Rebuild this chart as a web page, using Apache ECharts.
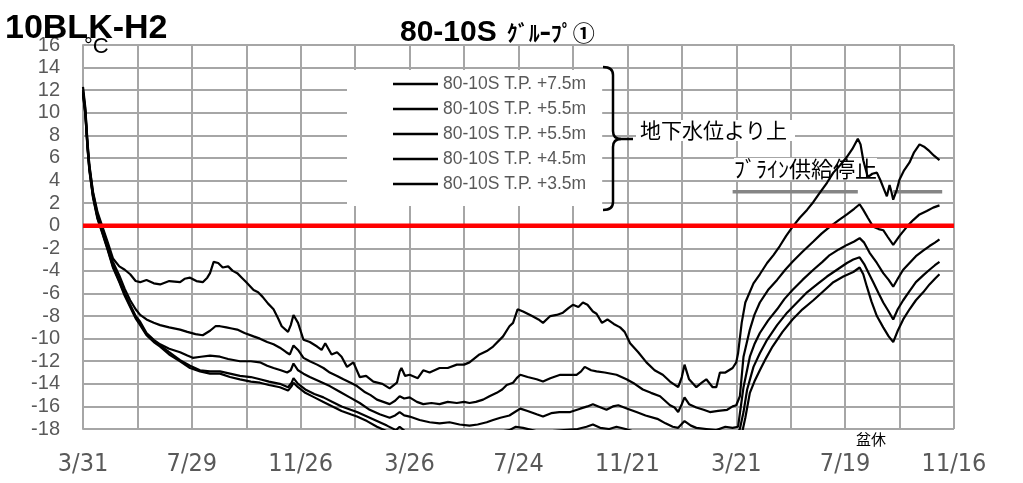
<!DOCTYPE html>
<html><head><meta charset="utf-8">
<script src="https://cdn.jsdelivr.net/npm/echarts@6/dist/echarts.min.js"></script>
<style>html,body{margin:0;padding:0;background:#fff}#c{width:1023px;height:483px}</style>
</head><body><div id="c"></div>
<script>
// x = days since 3/31 (first year); labels every 120 days
const xLabels = ['3/31','7/29','11/26','3/26','7/24','11/21','3/21','7/19','11/16'];
const seriesNames = ['80-10S T.P. +7.5m','80-10S T.P. +5.5m','80-10S T.P. +5.5m\u200b','80-10S T.P. +4.5m','80-10S T.P. +3.5m'];

const s1 = [[0,12.3],[2.5,10.5],[5,7.4],[7,5.4],[11,3.0],[16,1.2],[21,0.0],[27,-1.4],[33,-2.9],[40,-3.6],[46,-3.9],[52,-4.3],[58,-4.9],[63,-5.0],[70,-4.8],[78,-5.1],[85,-5.2],[95,-4.9],[107,-5.0],[112,-4.7],[118,-4.6],[125,-4.9],[132,-5.0],[137,-4.6],[140,-4.2],[144,-3.2],[149,-3.3],[154,-3.7],[160,-3.6],[165,-4.0],[170,-4.2],[175,-4.6],[180,-5.0],[188,-5.7],[193,-5.9],[198,-6.3],[204,-6.9],[210,-7.4],[215,-8.2],[219,-8.9],[226,-9.4],[229,-8.8],[232,-7.9],[237,-8.6],[243,-10.1],[250,-10.3],[258,-10.7],[263,-11.0],[267,-10.4],[274,-11.4],[280,-11.2],[285,-11.6],[291,-12.5],[298,-12.1],[305,-13.4],[312,-13.3],[320,-13.8],[330,-14.0],[338,-14.4],[346,-13.9],[349,-12.9],[351,-12.6],[355,-13.3],[360,-13.2],[369,-13.5],[375,-12.8],[382,-13.0],[393,-12.6],[402,-12.6],[412,-12.3],[420,-12.3],[426,-12.1],[437,-11.4],[445,-11.1],[452,-10.7],[463,-9.8],[470,-8.9],[474,-8.6],[479,-7.4],[485,-7.6],[495,-8.0],[502,-8.3],[507,-8.6],[515,-8.0],[522,-7.9],[529,-7.7],[535,-7.3],[540,-7.0],[546,-7.2],[551,-6.8],[556,-7.0],[562,-7.6],[566,-7.8],[572,-8.6],[578,-8.3],[585,-8.7],[592,-9.0],[597,-9.4],[603,-10.4],[612,-11.2],[621,-12.1],[630,-12.8],[639,-13.2],[647,-13.8],[656,-14.3],[660,-13.4],[663,-12.3],[668,-13.6],[676,-14.3],[682,-13.9],[687,-13.6],[694,-14.3],[698,-14.3],[702,-13.0],[708,-13.0],[716,-12.6],[720,-12.1],[722,-11.3],[726,-8.6],[730,-6.8],[739,-5.1],[746,-4.3],[754,-3.3],[761,-2.6],[768,-1.8],[775,-0.9],[782,-0.1],[790,0.7],[798,1.4],[805,2.1],[812,2.9],[820,3.8],[827,4.7],[835,5.4],[842,6.1],[848,6.8],[854,7.7],[857,7.2],[860,5.8],[865,4.3],[870,4.6],[875,4.7],[879,4.0],[882,3.4],[886,2.6],[889,3.6],[891,3.0],[893,2.3],[897,3.2],[900,4.1],[905,4.9],[911,5.6],[916,6.5],[922,7.2],[927,7.0],[933,6.6],[938,6.2],[944,5.8]];

const s2 = [[0,12.0],[2.5,10.3],[5,7.2],[7,5.3],[11,2.9],[16,1.0],[21,-0.2],[27,-1.6],[33,-3.2],[40,-4.4],[46,-5.6],[52,-6.6],[58,-7.4],[63,-7.9],[70,-8.3],[78,-8.6],[85,-8.8],[95,-9.0],[107,-9.2],[115,-9.4],[124,-9.6],[132,-9.7],[140,-9.3],[146,-8.9],[151,-8.9],[158,-9.0],[164,-9.1],[170,-9.2],[178,-9.5],[188,-9.8],[195,-10.0],[203,-10.3],[210,-10.5],[217,-10.8],[224,-11.2],[228,-11.4],[232,-10.6],[237,-11.0],[243,-11.7],[250,-12.0],[258,-12.3],[265,-12.6],[272,-13.0],[280,-13.3],[287,-13.6],[295,-13.9],[302,-14.2],[310,-14.7],[317,-15.0],[324,-15.4],[331,-15.6],[338,-15.8],[344,-15.5],[349,-15.1],[354,-15.3],[360,-15.2],[368,-15.6],[375,-15.8],[384,-15.7],[393,-15.8],[402,-15.6],[412,-15.7],[420,-15.6],[426,-15.7],[433,-15.6],[441,-15.4],[448,-15.1],[456,-14.8],[462,-14.5],[467,-14.1],[474,-13.9],[478,-13.5],[482,-13.2],[490,-13.4],[500,-13.6],[507,-13.8],[515,-13.5],[526,-13.2],[535,-13.2],[544,-13.2],[549,-12.9],[553,-12.5],[560,-12.8],[566,-12.9],[575,-13.0],[588,-13.2],[599,-13.6],[608,-14.0],[617,-14.5],[626,-14.8],[636,-15.1],[647,-15.9],[652,-16.1],[656,-16.5],[660,-15.8],[663,-15.2],[668,-15.8],[676,-16.1],[684,-16.3],[691,-16.5],[700,-16.4],[710,-16.3],[716,-16.0],[720,-15.9],[724,-15.1],[728,-11.6],[735,-9.2],[740,-7.9],[746,-6.8],[755,-5.7],[765,-4.8],[774,-3.9],[782,-3.2],[793,-2.3],[805,-1.4],[814,-0.7],[823,-0.1],[833,0.5],[842,1.0],[850,1.5],[856,1.9],[860,1.4],[865,0.7],[871,-0.1],[877,-0.3],[882,-0.4],[887,-1.0],[893,-1.7],[900,-0.9],[908,-0.1],[915,0.5],[922,1.0],[930,1.3],[937,1.6],[944,1.8]];

const s3 = [[0,11.8],[2.5,10.1],[5,7.0],[7,5.1],[11,2.7],[16,0.8],[21,-0.4],[27,-1.9],[33,-3.5],[40,-4.8],[46,-6.0],[52,-7.0],[58,-8.0],[63,-8.5],[70,-9.5],[78,-10.1],[85,-10.5],[95,-10.9],[107,-11.2],[115,-11.5],[121,-11.7],[130,-11.6],[140,-11.5],[151,-11.6],[160,-11.8],[173,-12.0],[185,-12.0],[195,-12.1],[203,-12.4],[210,-12.6],[218,-12.8],[225,-13.0],[229,-12.8],[232,-12.2],[237,-12.8],[243,-13.1],[250,-13.4],[261,-13.8],[272,-14.2],[283,-14.7],[294,-15.2],[305,-15.7],[316,-16.3],[327,-16.7],[338,-17.0],[344,-16.8],[349,-16.5],[354,-16.8],[360,-16.9],[371,-17.2],[382,-17.4],[393,-17.5],[404,-17.4],[415,-17.6],[426,-17.7],[435,-17.6],[445,-17.4],[452,-17.2],[460,-17.0],[470,-16.8],[476,-16.5],[482,-16.2],[490,-16.4],[500,-16.7],[507,-16.9],[516,-16.6],[525,-16.5],[537,-16.5],[548,-16.2],[556,-16.0],[562,-15.8],[568,-16.0],[577,-16.3],[584,-16.0],[590,-15.9],[600,-16.2],[610,-16.5],[620,-16.8],[633,-17.1],[642,-17.5],[650,-17.8],[656,-17.9],[663,-17.3],[670,-17.7],[676,-17.9],[687,-18.0],[698,-18.1],[708,-17.8],[716,-17.9],[722,-17.8],[728,-14.3],[735,-11.6],[740,-10.5],[746,-9.5],[755,-8.4],[765,-7.4],[773,-6.5],[782,-5.7],[793,-4.8],[805,-3.9],[815,-3.2],[823,-2.6],[833,-2.1],[842,-1.7],[850,-1.4],[856,-1.1],[861,-1.5],[867,-2.4],[875,-3.3],[882,-4.2],[888,-4.8],[893,-5.4],[898,-4.7],[904,-3.9],[911,-3.3],[918,-2.7],[926,-2.2],[933,-1.8],[939,-1.5],[944,-1.2]];

const s4 = [[0,11.7],[2.5,10.0],[5,6.9],[7,5.0],[11,2.6],[16,0.7],[21,-0.5],[27,-2.0],[33,-3.6],[40,-4.9],[46,-6.1],[52,-7.1],[58,-8.1],[63,-8.7],[70,-9.6],[78,-10.2],[85,-10.6],[95,-11.2],[107,-11.9],[118,-12.4],[129,-12.8],[140,-12.9],[151,-12.9],[162,-13.1],[173,-13.3],[185,-13.4],[195,-13.6],[205,-13.8],[217,-14.0],[226,-14.3],[230,-13.9],[232,-13.5],[237,-14.0],[245,-14.5],[255,-14.9],[265,-15.2],[275,-15.6],[285,-16.0],[295,-16.3],[302,-16.5],[313,-16.9],[324,-17.3],[335,-17.7],[345,-18.1],[349,-17.8],[355,-18.2],[365,-18.4],[380,-18.6],[395,-18.7],[410,-18.6],[425,-18.6],[440,-18.4],[455,-18.3],[470,-18.1],[477,-17.8],[485,-17.9],[495,-18.1],[505,-18.3],[515,-18.2],[530,-18.1],[545,-18.0],[555,-17.8],[562,-17.6],[570,-17.9],[580,-18.0],[588,-17.8],[598,-18.0],[610,-18.3],[625,-18.6],[640,-18.9],[655,-19.2],[663,-18.8],[670,-19.1],[685,-19.2],[700,-19.2],[715,-19.1],[724,-18.0],[728,-16.5],[732,-14.5],[739,-12.5],[746,-11.3],[754,-10.1],[765,-8.8],[776,-7.7],[787,-6.8],[798,-5.9],[809,-5.2],[820,-4.5],[831,-3.9],[842,-3.3],[849,-3.0],[856,-2.8],[861,-3.4],[866,-4.2],[871,-5.0],[877,-6.0],[882,-6.8],[888,-7.6],[893,-8.3],[898,-7.4],[904,-6.6],[911,-5.8],[918,-5.0],[926,-4.4],[933,-3.9],[939,-3.5],[944,-3.2]];

const s5 = [[0,11.6],[2.5,9.9],[5,6.8],[7,4.9],[11,2.5],[16,0.6],[21,-0.6],[27,-2.1],[33,-3.7],[40,-5.0],[46,-6.2],[52,-7.2],[58,-8.2],[63,-8.8],[70,-9.7],[78,-10.3],[85,-10.7],[95,-11.4],[107,-12.0],[118,-12.6],[129,-12.9],[140,-13.1],[151,-13.1],[162,-13.4],[173,-13.6],[185,-13.8],[195,-13.9],[205,-14.1],[217,-14.3],[226,-14.6],[230,-14.2],[232,-13.9],[237,-14.3],[245,-14.8],[255,-15.2],[265,-15.6],[275,-16.0],[285,-16.4],[295,-16.7],[302,-16.9],[313,-17.3],[324,-17.8],[335,-18.2],[345,-18.6],[360,-19.0],[380,-19.3],[400,-19.5],[420,-19.6],[440,-19.5],[460,-19.3],[480,-19.0],[500,-19.1],[520,-19.0],[540,-18.9],[560,-18.6],[580,-18.8],[600,-19.0],[620,-19.4],[640,-19.7],[660,-19.9],[680,-20.0],[700,-20.0],[720,-20.0],[726,-18.5],[730,-17.0],[735,-14.8],[740,-13.8],[746,-12.8],[753,-11.7],[760,-10.7],[771,-9.4],[782,-8.3],[793,-7.4],[805,-6.6],[816,-5.8],[827,-5.0],[838,-4.5],[849,-4.1],[856,-3.7],[860,-4.3],[864,-5.4],[869,-6.7],[875,-8.0],[882,-9.0],[888,-9.8],[893,-10.3],[898,-9.3],[904,-8.3],[911,-7.4],[918,-6.6],[926,-5.9],[933,-5.2],[939,-4.7],[944,-4.3]];

// reference line at 0 °C and "brine supply stopped" periods at 3 °C
const zeroLine = [[0,0],[960,0]];
const stopLine = [[716,3],[854,3],[874,'-'],[893,3],[947,3]];

const GRID = '#a6a6a6';
const chart = echarts.init(document.getElementById('c'), null, {renderer:'canvas'});
const allSeries = [s1,s2,s3,s4,s5].map((d,i)=>({
  name: seriesNames[i], type:'line', data:d, showSymbol:false, symbol:'none',
  color:'#000', lineStyle:{color:'#000', width:2.2}, z:3, clip:true, animation:false
}));
allSeries.push({type:'line', data:zeroLine, showSymbol:false, symbol:'none', lineStyle:{color:'#ff0000', width:4.5}, z:5, animation:false, silent:true});
allSeries.push({type:'line', data:stopLine, showSymbol:false, symbol:'none', connectNulls:false, lineStyle:{color:'#858585', width:3.5}, z:2, animation:false, silent:true});

const braceStyle = {stroke:'#000', lineWidth:2.5, fill:null};
chart.setOption({
  animation:false,
  backgroundColor:'#fff',
  grid:{left:83, top:45, width:871, height:384, containLabel:false},
  xAxis:{type:'value', min:0, max:960, interval:60,
    axisLine:{show:true, lineStyle:{color:GRID, width:2}}, axisTick:{show:false},
    splitLine:{show:true, lineStyle:{color:GRID, width:2}},
    axisLabel:{margin:23, color:'#595959', fontSize:25, fontFamily:"'Liberation Sans Narrow','DejaVu Sans Condensed',sans-serif",
      formatter:v=> (v%120===0 ? xLabels[v/120] : '')}},
  yAxis:{type:'value', min:-18, max:16, interval:2,
    axisLine:{show:true, lineStyle:{color:GRID, width:2}}, axisTick:{show:false},
    splitLine:{show:true, lineStyle:{color:GRID, width:2}},
    axisLabel:{margin:23, color:'#595959', fontSize:20, fontFamily:"'Liberation Sans',sans-serif"}},
  legend:{data:seriesNames, orient:'vertical', left:347, top:70, backgroundColor:'#fff',
    padding:[4,16,12,46], itemWidth:45, itemHeight:2.5, itemGap:5, icon:'rect', selectedMode:false,
    textStyle:{color:'#595959', fontSize:17.5, fontFamily:"'Liberation Sans',sans-serif", lineHeight:20}},
  series: allSeries,
  graphic:[
    {type:'text', left:5, top:12, z:10, style:{text:'10BLK-H2', font:"bold 34px 'Liberation Sans',sans-serif", fill:'#000'}},
    {type:'text', left:400, top:18, z:10, style:{text:'{a|80-10S}{b|ｸﾞﾙｰﾌﾟ①}',
      rich:{a:{font:"bold 30px 'Liberation Sans',sans-serif", fill:'#000'}, b:{font:"bold 22px 'Noto Sans CJK JP',sans-serif", fill:'#000', padding:[0,0,0,10]}}}},
    {type:'text', left:84, top:36, z:10, style:{text:'°C', font:"22px 'Liberation Sans',sans-serif", fill:'#000'}},
    {type:'text', left:636, top:120, z:1, style:{text:'地下水位より上', font:"21px 'Noto Sans CJK JP',sans-serif", fill:'#000', backgroundColor:'#fff', padding:[0,8,0,4]}},
    {type:'text', left:734, top:158, z:1, style:{text:'ﾌﾞﾗｲﾝ供給停止', font:"22px 'Noto Sans CJK JP',sans-serif", fill:'#000', backgroundColor:'#fff'}},
    {type:'text', left:856, top:432, z:10, style:{text:'盆休', font:"15px 'Noto Sans CJK JP',sans-serif", fill:'#000'}},
    {type:'bezierCurve', z:10, shape:{x1:603,y1:67,x2:613,y2:75,cpx1:613,cpy1:67}, style:braceStyle},
    {type:'line', z:10, shape:{x1:613,y1:75,x2:613,y2:131}, style:braceStyle},
    {type:'bezierCurve', z:10, shape:{x1:613,y1:131,x2:621,y2:139,cpx1:613,cpy1:139}, style:braceStyle},
    {type:'line', z:10, shape:{x1:621,y1:139,x2:633,y2:139}, style:braceStyle},
    {type:'bezierCurve', z:10, shape:{x1:621,y1:139,x2:613,y2:147,cpx1:613,cpy1:139}, style:braceStyle},
    {type:'line', z:10, shape:{x1:613,y1:147,x2:613,y2:202}, style:braceStyle},
    {type:'bezierCurve', z:10, shape:{x1:613,y1:202,x2:603,y2:210,cpx1:613,cpy1:210}, style:braceStyle}
  ]
});
</script></body></html>
